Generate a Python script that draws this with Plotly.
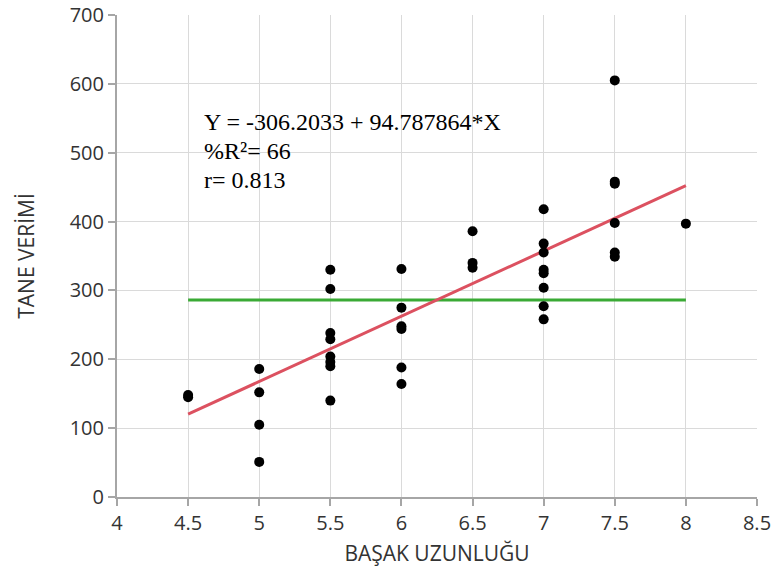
import plotly.graph_objects as go

# Data
basak_uzunlugu = [4.5, 4.5,
                  5, 5, 5, 5,
                  5.5, 5.5, 5.5, 5.5, 5.5, 5.5, 5.5, 5.5,
                  6, 6, 6, 6, 6, 6,
                  6.5, 6.5, 6.5,
                  7, 7, 7, 7, 7, 7, 7, 7,
                  7.5, 7.5, 7.5, 7.5, 7.5, 7.5,
                  8]
tane_verimi = [148, 145,
               186, 152, 105, 51,
               330, 302, 238, 229, 204, 196, 190, 140,
               331, 275, 248, 244, 188, 164,
               386, 340, 333,
               418, 368, 355, 330, 325, 304, 277, 258,
               605, 458, 455, 398, 355, 349,
               397]

intercept = -306.2033
slope = 94.787864
line_x = [4.5, 8]
mean_y = 286

x_ticks = [4, 4.5, 5, 5.5, 6, 6.5, 7, 7.5, 8, 8.5]
y_ticks = [0, 100, 200, 300, 400, 500, 600, 700]

eq_lines = ["Y = -306.2033 + 94.787864*X", "%R\u00b2= 66", "r= 0.813"]
eq_y = [545, 503, 460]

fig = go.Figure()

fig.add_trace(go.Scatter(
    x=line_x, y=[mean_y, mean_y], mode="lines",
    line=dict(color="#3aaa35", width=3), hoverinfo="skip", showlegend=False))

fig.add_trace(go.Scatter(
    x=line_x, y=[intercept + slope * v for v in line_x], mode="lines",
    line=dict(color="#dc5160", width=3), hoverinfo="skip", showlegend=False))

fig.add_trace(go.Scatter(
    x=basak_uzunlugu, y=tane_verimi, mode="markers",
    marker=dict(color="black", size=10), showlegend=False))

for txt, yy in zip(eq_lines, eq_y):
    fig.add_annotation(x=4.6, y=yy, xref="x", yref="y", text=txt,
                       showarrow=False, xanchor="left", yanchor="middle",
                       font=dict(family="Liberation Serif", size=24, color="black"))

axis_common = dict(
    showgrid=True, gridcolor="#dadada", gridwidth=1,
    showline=True, linecolor="#a6a6a6", linewidth=2,
    ticks="outside", ticklen=7, tickcolor="#a6a6a6", tickwidth=2,
    zeroline=False, automargin=False, ticklabeloverflow="allow",
    tickfont=dict(family="Open Sans", size=20, color="#333333"),
)

fig.update_xaxes(range=[4, 8.5], tickvals=x_ticks,
                 ticktext=[("%g" % v) for v in x_ticks],
                 title=dict(text="BAŞAK UZUNLUĞU", standoff=11,
                            font=dict(family="Open Sans", size=21, color="#333333")),
                 **axis_common)
fig.update_yaxes(range=[0, 700], tickvals=y_ticks,
                 title=dict(text="TANE VERİMİ", standoff=29,
                            font=dict(family="Open Sans", size=21, color="#333333")),
                 **axis_common)

fig.update_layout(
    width=774, height=578,
    margin=dict(l=117, r=17, t=15, b=81),
    plot_bgcolor="white", paper_bgcolor="white",
)

fig.write_html("out.html", config={"displayModeBar": False},
               post_script="document.body.style.margin='0px';document.body.style.overflow='hidden';")
